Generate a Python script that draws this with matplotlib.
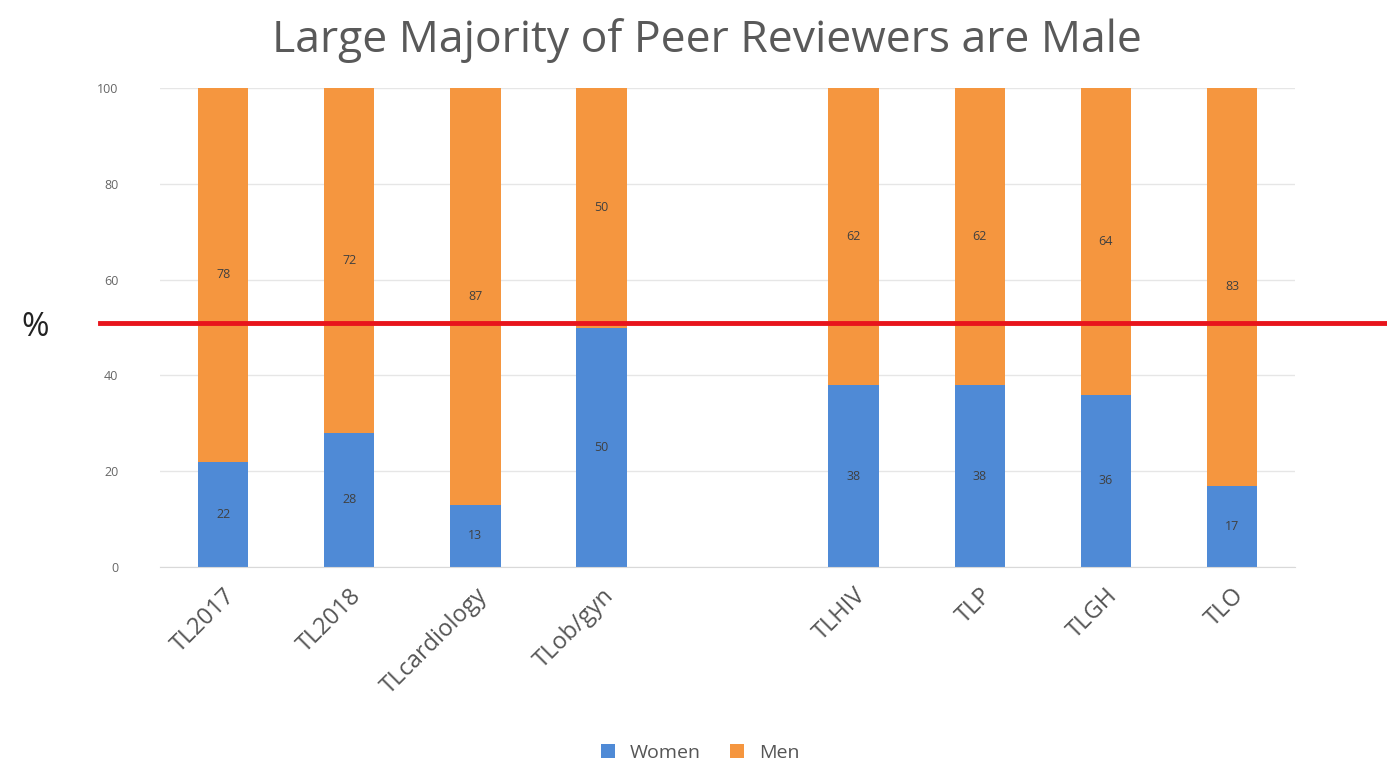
import numpy as np
import matplotlib.pyplot as plt
from matplotlib.lines import Line2D

categories = ["TL2017", "TL2018", "TLcardiology", "TLob/gyn", "", "TLHIV", "TLP", "TLGH", "TLO"]
women = [22, 28, 13, 50, 0, 38, 38, 36, 17]
men = [78, 72, 87, 50, 0, 62, 62, 64, 83]

BLUE = "#4f8ad6"
ORANGE = "#f5963f"

plt.rcParams["font.family"] = ["Open Sans", "DejaVu Sans"]

fig = plt.figure(figsize=(13.87, 7.7), dpi=100)
ax = fig.add_axes([0.1154, 0.2636, 0.8183, 0.6221])

x = np.arange(len(categories))
ax.bar(x, women, width=0.4, color=BLUE, label="Women", zorder=2)
ax.bar(x, men, width=0.4, bottom=women, color=ORANGE, label="Men", zorder=2)

# value labels in the middle of each segment
for i in x:
    if women[i] + men[i] == 0:
        continue
    ax.text(i, women[i] / 2, str(women[i]), ha="center", va="center",
            fontsize=9, color="#404040", zorder=3)
    ax.text(i, women[i] + men[i] / 2, str(men[i]), ha="center", va="center",
            fontsize=9, color="#404040", zorder=3)

ax.set_xlim(-0.5, len(categories) - 0.5)
ax.set_ylim(0, 100)
ax.set_yticks(range(0, 101, 20))
ax.tick_params(axis="y", length=0, labelsize=9, labelcolor="#666666", pad=30)
ax.set_xticks(x)
ax.set_xticklabels(categories, rotation=45, ha="right", rotation_mode="anchor",
                   fontsize=17, color="#555555")
ax.tick_params(axis="x", length=0, pad=12)
ax.grid(axis="y", color="#e6e6e6", linewidth=1, zorder=0)
for s in ["top", "right", "left"]:
    ax.spines[s].set_visible(False)
ax.spines["bottom"].set_color("#d9d9d9")

fig.text(0.51, 0.948, "Large Majority of Peer Reviewers are Male", ha="center",
         va="center", fontsize=32, color="#595959")
fig.text(0.025, 0.575, "%", ha="center", va="center", fontsize=24, color="#222222")

# red 50% reference line across the figure
fig.add_artist(Line2D([100 / 1387, 1.0], [1 - 323 / 770, 1 - 323 / 770],
                      color="#e8141c", linewidth=3.5, zorder=5))

fig.legend(loc="lower center", bbox_to_anchor=(0.505, -0.012), ncol=2, frameon=False,
           fontsize=14, handlelength=0.7, handleheight=0.7, columnspacing=1.5,
           labelcolor="#555555")

plt.savefig("out.png", dpi=100)
